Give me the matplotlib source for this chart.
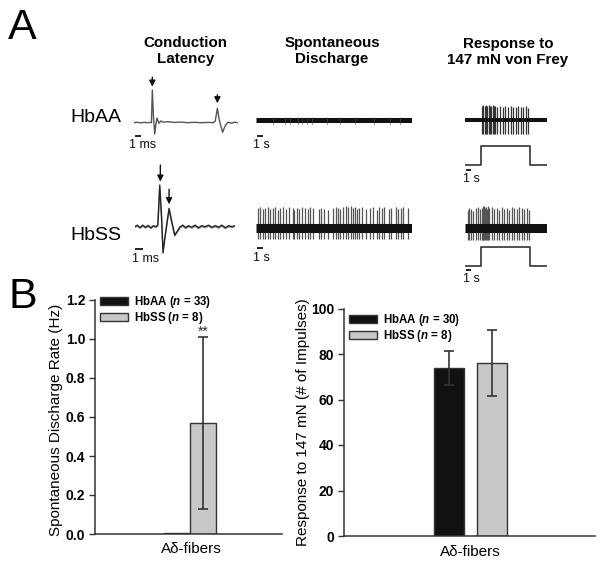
import matplotlib.pyplot as plt
from matplotlib.patches import Patch

plt.rcParams['font.family'] = ['Liberation Sans', 'DejaVu Sans']
plt.rcParams['mathtext.fontset'] = 'custom'
plt.rcParams['mathtext.it'] = 'Liberation Sans:italic:bold'
plt.rcParams['mathtext.rm'] = 'Liberation Sans:bold'

W, H = 604, 565

# ---------------- Panel A data (time, amplitude in a.u.) ----------------
# conduction latency, HbAA (ms)
lat_aa_t = [0, 0.5, 1.0, 1.5, 2.0, 2.4, 2.6, 2.73, 2.9, 3.09, 3.25, 3.43, 3.73, 4.0, 4.4, 5.0,
            6.0, 7.0, 8.0, 9.0, 10.0, 11.0, 11.8, 12.1, 12.43, 12.7, 13.2, 13.6, 14.0, 14.5, 15.0, 15.5]
lat_aa_v = [0, 0.5, -0.3, 0.4, 0, 0.3, 0, 32.7, 6, -11.3, -2, 4.7, -0.7, 1.7, 0.5, 1,
            0.3, 0.6, 0, 0.4, 0, 0.3, 0, 1.5, 14.4, 3, -9.6, -3, 0.5, -0.5, 0.5, 0]
lat_aa_arrows = [2.73, 12.43]

# conduction latency, HbSS (ms), two overlaid sweeps
lat_ss_t = [0, 0.4, 0.8, 1.2, 1.6, 2.0, 2.4, 2.8, 3.2, 3.45, 3.73, 4.0, 4.22, 4.6, 5.12, 5.5, 5.97, 6.4,
            6.76, 7.2, 7.6, 8.0, 8.5, 9.0, 9.5, 10.0, 10.5, 11.0, 11.5, 12.0, 12.5, 13.0, 13.5, 14.0, 14.5, 14.9]
lat_ss_a = [0, 1.5, -1, 1.5, -0.5, 1.2, -1, 1, 0, 2, 41.7, 10, -26.3, -6, 18.4, 6, -8.3, -4,
            0, 1.5, -1, 1, -0.5, 1.5, -1, 1, 0, 1.5, -0.5, 1, -0.5, 1.5, -1, 1, 0, 1]
lat_ss_b = [-1, 0.5, -1.5, 0.5, -1.5, 0.2, -2, 0, -1, 1, 39, 8, -24, -7, 16.5, 4, -9.5, -5,
            -1, 0.5, -2, 0, -1.5, 0.5, -2, 0, -1, 0.5, -1.5, 0, -1.5, 0.5, -2, 0, -1, 0]
lat_ss_arrows = [3.82, 5.12]

# spontaneous discharge (s)
spont_aa_blips = [2.48, 4.14, 4.86, 6.05, 6.52, 7.24, 7.95, 10.1, 12.0, 14.1, 16.8, 19.1, 20.6]
spont_ss_times = [0.33, 0.62, 0.95, 1.33, 1.67, 2.05, 2.38, 2.71, 3.10, 3.43, 3.81, 4.29, 4.67, 5.24,
                  5.48, 5.81, 6.19, 6.57, 7.00, 7.38, 7.71, 8.10, 8.95, 9.33, 9.67, 10.24, 10.95, 11.43,
                  11.76, 12.05, 12.48, 12.86, 13.14, 13.52, 13.86, 14.14, 14.38, 14.76, 15.14, 15.71,
                  16.29, 16.67, 17.24, 17.62, 18.00, 18.33, 18.95, 19.29, 20.00, 20.33, 20.71, 21.05, 21.67]
spont_ss_heights = [20, 21, 19, 20, 21, 19, 20, 21, 18, 20, 21, 19, 21, 20, 18, 20, 19, 21, 20, 19,
                    21, 20, 19, 20, 19, 18, 20, 21, 20, 19, 21, 22, 21, 22, 20, 21, 19, 20, 21, 19,
                    20, 21, 18, 21, 20, 21, 19, 20, 21, 19, 20, 21, 20]

# response to 147 mN von Frey (s)
vf_step_t = [0, 2.67, 2.67, 10.83, 10.83, 13.67]
vf_step_v = [0, 0, 1, 1, 0, 0]
vf_aa_times = [2.89, 3.06, 3.28, 3.50, 3.72, 3.94, 4.17, 4.39, 4.61, 4.83, 5.06, 5.28, 5.83, 6.28,
               6.67, 7.22, 7.67, 8.06, 8.50, 8.89, 9.33, 9.72, 10.17, 10.56]
vf_aa_heights = [14, 15, 14, 15, 14, 15, 14, 14, 15, 14, 14, 13, 14, 13, 14, 13, 14, 13, 13, 14,
                 13, 13, 14, 12]
vf_ss_times = [0.44, 0.72, 1.00, 1.39, 1.78, 2.11, 2.50, 2.78, 2.94, 3.06, 3.22, 3.33, 3.50, 3.61,
               3.78, 4.06, 4.44, 4.89, 5.28, 5.67, 6.11, 6.50, 6.94, 7.33, 7.78, 8.17, 8.61, 9.06,
               9.44, 9.89, 10.28, 10.67]
vf_ss_heights = [18, 20, 19, 17, 20, 21, 19, 20, 22, 21, 22, 20, 21, 19, 22, 20, 21, 19, 20, 18,
                 21, 19, 20, 18, 21, 20, 19, 21, 20, 19, 20, 18]

# ---------------- Panel B data ----------------
groups = ['HbAA', 'HbSS']
spont_n = [33, 8]
spont_rate = [0.003, 0.57]
spont_err = [0.0, 0.44]
resp_n = [30, 8]
resp_count = [74, 76]
resp_err = [7.5, 14.5]
bar_colors = ['#111111', '#c8c8c8']

fig = plt.figure(figsize=(W / 100, H / 100), dpi=100)


def trace_axes(x0, x1, y_base, t_max, up, down):
    # amplitude units equal screen pixels so the sweeps keep their shape
    ax = fig.add_axes([x0 / W, 1 - (y_base + down) / H, (x1 - x0) / W, (up + down) / H])
    ax.set_xlim(0, t_max)
    ax.set_ylim(-down, up)
    ax.axis('off')
    return ax


def scale_bar(ax, length, y, label, tx, ty):
    ax.plot([0.1, 0.1 + length], [y, y], color='#111111', lw=1.3, clip_on=False,
            solid_capstyle='butt')
    ax.text(tx, ty, label, ha='center', va='center', fontsize=9, color='#111111')


def arrow(ax, t, top, tip):
    ax.annotate('', xy=(t, tip), xytext=(t, top),
                arrowprops=dict(arrowstyle='-|>', color='#111111', lw=1.0,
                                mutation_scale=9, shrinkA=0, shrinkB=0))


# letters, titles, row labels
fig.text(8 / W, 1 - 28 / H, 'A', fontsize=31, ha='left', va='center')
fig.text(9 / W, 1 - 297 / H, 'B', fontsize=31, ha='left', va='center')
title_kw = dict(ha='center', va='center', fontsize=10.9, weight='bold', linespacing=1.15)
fig.text(185.5 / W, 1 - 51 / H, 'Conduction\nLatency', **title_kw)
fig.text(332 / W, 1 - 51 / H, 'Spontaneous\nDischarge', **title_kw)
fig.text(508 / W, 1 - 52 / H, 'Response to\n147 mN von Frey', **title_kw)
fig.text(70 / W, 1 - 118 / H, 'HbAA', fontsize=14, ha='left', va='center')
fig.text(70 / W, 1 - 236 / H, 'HbSS', fontsize=14, ha='left', va='center')

# conduction latency traces
ax = trace_axes(134, 238, 122.7, 15.5, 50, 30)
ax.plot(lat_aa_t, lat_aa_v, color='#555555', lw=1.0)
arrow(ax, lat_aa_arrows[0], 45.5, 36)
arrow(ax, lat_aa_arrows[1], 28, 19.4)
scale_bar(ax, 1.0, -13.3, '1 ms', 1.35, -22.3)

ax = trace_axes(134.7, 234.7, 226.7, 14.9, 65, 45)
ax.plot(lat_ss_t, lat_ss_b, color='#9a9a9a', lw=1.0)
ax.plot(lat_ss_t, lat_ss_a, color='#222222', lw=1.0)
arrow(ax, lat_ss_arrows[0], 61.7, 45)
arrow(ax, lat_ss_arrows[1], 37.4, 22.4)
scale_bar(ax, 1.1, -22.6, '1 ms', 1.69, -32.3)

# spontaneous discharge traces
ax = trace_axes(256, 412, 120, 22.3, 30, 30)
ax.plot([0, 22.3], [0, 0], color='#111111', lw=3.6, solid_capstyle='butt')
ax.vlines(spont_aa_blips, -4, 3.5, color='#444444', lw=0.5)
scale_bar(ax, 0.9, -16, '1 s', 0.75, -25)

ax = trace_axes(256, 412, 227.5, 22.3, 30, 35)
ax.vlines(spont_ss_times, -11, spont_ss_heights, color='#555555', lw=0.9)
ax.plot([0, 22.3], [0, 0], color='#111111', lw=6.5, solid_capstyle='butt')
scale_bar(ax, 0.9, -20.5, '1 s', 0.75, -30.5)

# von Frey traces with stimulus step
ax = trace_axes(465, 547, 120, 13.67, 30, 65)
ax.vlines(vf_aa_times, -14, vf_aa_heights, color='#333333', lw=0.9)
ax.plot([0, 13.67], [0, 0], color='#111111', lw=2.9, solid_capstyle='butt')
ax.plot(vf_step_t, [-45 + 19 * v for v in vf_step_v], color='#333333', lw=1.2)
scale_bar(ax, 0.9, -49.5, '1 s', 1.1, -59.3)

ax = trace_axes(465, 547, 228.3, 13.67, 30, 60)
ax.vlines(vf_ss_times, -12, vf_ss_heights, color='#555555', lw=0.9)
ax.plot([0, 13.67], [0, 0], color='#111111', lw=6.5, solid_capstyle='butt')
ax.plot(vf_step_t, [-37.7 + 18.7 * v for v in vf_step_v], color='#333333', lw=1.2)
scale_bar(ax, 0.9, -41.5, '1 s', 1.1, -50.5)


# ---------------- Panel B ----------------
def style_bar_axes(ax, ticks, fmt):
    for s in ['top', 'right']:
        ax.spines[s].set_visible(False)
    for s in ['left', 'bottom']:
        ax.spines[s].set_color('#333333')
        ax.spines[s].set_linewidth(1.1)
    ax.set_xticks([])
    ax.set_yticks(ticks)
    ax.set_yticklabels([fmt.format(t) for t in ticks], fontweight='bold')
    ax.tick_params(axis='y', direction='out', length=4, width=1.0, color='#333333',
                   labelsize=10, pad=3)


leg_kw = dict(loc='upper left', bbox_transform=fig.transFigure, frameon=False, borderpad=0,
              borderaxespad=0, handlelength=2.4, handleheight=0.6, handletextpad=0.55,
              labelspacing=0.0, prop={'weight': 'bold', 'size': 8.3})
err_kw = dict(fmt='none', ecolor='#333333', elinewidth=1.2, capsize=3.6, capthick=1.2)

axL = fig.add_axes([95 / W, 1 - 534 / H, (282 - 95) / W, (534 - 300) / H])
axL.bar([0, 1], spont_rate, width=1.0, color=bar_colors, edgecolor='#333333', linewidth=1.0)
axL.errorbar([1], [spont_rate[1]], yerr=[spont_err[1]], **err_kw)
axL.text(1, spont_rate[1] + spont_err[1] + 0.005, '**', ha='center', va='baseline',
         fontsize=10, color='#333333')
axL.set_xlim(-3.15, 4.04)
axL.set_ylim(0, 1.2)
style_bar_axes(axL, [0, 0.2, 0.4, 0.6, 0.8, 1.0, 1.2], '{:.1f}')
handles = [Patch(facecolor=c, edgecolor='#333333', linewidth=1.0) for c in bar_colors]
axL.legend(handles, [f'{g} ($n$ = {n})' for g, n in zip(groups, spont_n)],
           bbox_to_anchor=(100 / W, 1 - 294 / H), **leg_kw)
fig.text(56 / W, 1 - 420 / H, 'Spontaneous Discharge Rate (Hz)', rotation=90,
         ha='center', va='center', fontsize=11)
fig.text(191 / W, 1 - 549 / H, 'A\u03b4-fibers', ha='center', va='center', fontsize=11)

axR = fig.add_axes([344 / W, 1 - 536 / H, (595 - 344) / W, (536 - 308.5) / H])
axR.bar([0, 1.42], resp_count, width=1.0, color=bar_colors, edgecolor='#333333', linewidth=1.0)
axR.errorbar([0, 1.42], resp_count, yerr=resp_err, **err_kw)
axR.set_xlim(-3.5, 4.87)
axR.set_ylim(0, 100)
style_bar_axes(axR, [0, 20, 40, 60, 80, 100], '{:d}')
axR.legend(handles, [f'{g} ($n$ = {n})' for g, n in zip(groups, resp_n)],
           bbox_to_anchor=(349 / W, 1 - 312 / H), **leg_kw)
fig.text(303 / W, 1 - 422 / H, 'Response to 147 mN (# of Impulses)', rotation=90,
         ha='center', va='center', fontsize=11)
fig.text(470 / W, 1 - 552 / H, 'A\u03b4-fibers', ha='center', va='center', fontsize=11)

fig.savefig('out.png', dpi=100)
